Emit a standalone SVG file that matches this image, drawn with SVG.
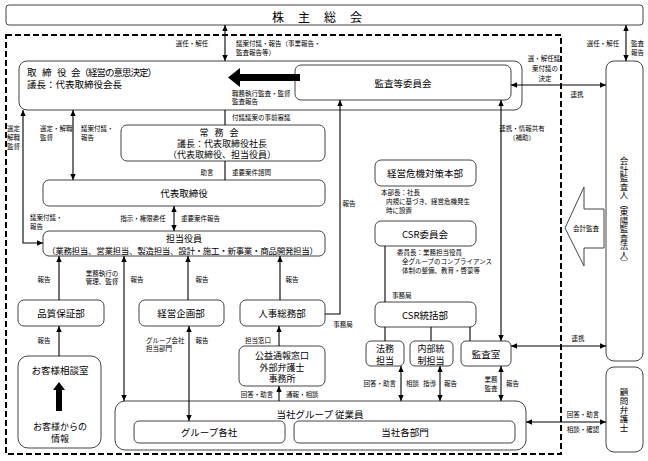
<svg xmlns="http://www.w3.org/2000/svg" width="648" height="461" viewBox="0 0 648 461">
<style>
text{font-family:"Noto Sans CJK JP","Noto Sans",sans-serif;fill:#000;dominant-baseline:central}
.b{font-size:9.5px;text-anchor:middle}
.m{font-size:9px;text-anchor:middle}
.bl{font-size:9.5px}
.v{font-size:8.5px;text-anchor:middle;writing-mode:vertical-rl}
.s{font-size:6.5px}
.sc{font-size:6.5px;text-anchor:middle}
.se{font-size:6.5px;text-anchor:end}
.box{fill:#fff;stroke:#444;stroke-width:1}
.ln{fill:none;stroke:#000;stroke-width:1.1}
.ar{fill:none;stroke:#000;stroke-width:1.1;marker-end:url(#ah)}
.ar2{fill:none;stroke:#000;stroke-width:1.1;marker-end:url(#ah);marker-start:url(#ah)}
</style>
<defs>
<marker id="ah" viewBox="0 0 10 10" refX="10" refY="5" markerWidth="6" markerHeight="6" markerUnits="userSpaceOnUse" orient="auto-start-reverse"><path d="M0,0.5 L10,5 L0,9.5 z" fill="#000"/></marker>
</defs>
<rect x="0" y="0" width="648" height="461" fill="#fff"/>
<rect x="6" y="35" width="555" height="419" fill="none" stroke="#000" stroke-width="2" stroke-dasharray="6 3"/>

<g id="kabunushi"><rect class="box" x="6" y="5" width="637" height="20" rx="3"/>
<text x="324" y="16" style="font-size:12px;text-anchor:middle;letter-spacing:14px">株主総会</text></g>

<g id="torishimariyakukai"><rect class="box" x="19" y="61" width="503" height="49" rx="8"/>
<text class="bl" x="27" y="72">取</text><text class="bl" x="42" y="72">締</text><text class="bl" x="57" y="72">役</text><text class="bl" x="71" y="72" textLength="86">会（経営の意思決定）</text>
<text class="bl" x="27" y="84">議長：代表取締役会長</text></g>

<g id="kansatou"><rect class="box" x="295" y="65" width="216" height="35" rx="6"/>
<text class="b" x="403" y="83">監査等委員会</text></g>

<g id="joumukai"><rect class="box" x="121" y="125" width="204" height="36" rx="6"/>
<text class="m" x="222" y="132" style="letter-spacing:6px">常務会</text>
<text class="m" x="222" y="143">議長：代表取締役社長</text>
<text class="m" x="222" y="154">（代表取締役、担当役員）</text></g>

<g id="daihyou"><rect class="box" x="43" y="180" width="282" height="26" rx="6"/>
<text class="b" x="184" y="193">代表取締役</text></g>

<g id="tantou"><rect class="box" x="43" y="231" width="282" height="25" rx="6"/>
<text class="m" x="184" y="238">担当役員</text>
<text x="47" y="250" style="font-size:8.5px" textLength="271">（業務担当、営業担当、製造担当、設計・施工・新事業・商品開発担当）</text></g>

<g id="hinshitsu"><rect class="box" x="18" y="300" width="86" height="26" rx="6"/>
<text class="b" x="61" y="313">品質保証部</text></g>

<g id="keiei"><rect class="box" x="139" y="300" width="85" height="26" rx="6"/>
<text class="b" x="181" y="313">経営企画部</text></g>

<g id="jinji"><rect class="box" x="240" y="300" width="85" height="26" rx="6"/>
<text class="b" x="282" y="313">人事総務部</text></g>

<g id="koueki"><rect class="box" x="239" y="346" width="86" height="40" rx="6"/>
<text class="m" x="282" y="355">公益通報窓口</text>
<text class="m" x="282" y="367">外部弁護士</text>
<text class="m" x="282" y="378">事務所</text></g>

<g id="okyakusama"><rect class="box" x="18" y="356" width="83" height="92" rx="10"/>
<text class="b" x="60" y="370">お客様相談室</text>
<path d="M59,382 L65,390 L62,390 L62,411 L56,411 L56,390 L53,390 z" fill="#000"/>
<text class="m" x="60" y="426">お客様からの</text>
<text class="m" x="60" y="438">情報</text></g>

<g id="kiki"><rect class="box" x="375" y="160" width="101" height="26" rx="6"/>
<text class="b" x="425" y="173">経営危機対策本部</text>
<text class="s" x="381" y="192">本部長：社長</text>
<text class="s" x="386" y="201">内規に基づき、経営危機発生</text>
<text class="s" x="386" y="210">時に設置</text></g>

<g id="csriinkai"><rect class="box" x="375" y="221" width="101" height="25" rx="6"/>
<text class="b" x="425" y="234">CSR委員会</text>
<text class="s" x="397" y="252">委員長：業務担当役員</text>
<text class="s" x="402" y="261">全グループのコンプライアンス</text>
<text class="s" x="402" y="270">体制の整備、教育・啓蒙等</text></g>

<g id="csrtoukatsu"><rect class="box" x="375" y="302" width="101" height="25" rx="6"/>
<text class="b" x="425" y="315">CSR統括部</text></g>

<g id="houmu"><rect class="box" x="366" y="341" width="38" height="25" rx="5"/>
<text class="m" x="385" y="348">法務</text><text class="m" x="385" y="360">担当</text></g>

<g id="naibu"><rect class="box" x="410" y="341" width="43" height="25" rx="5"/>
<text class="m" x="431" y="348">内部統</text><text class="m" x="431" y="360">制担当</text></g>

<g id="kansashitsu"><rect class="box" x="461" y="341" width="50" height="25" rx="5"/>
<text class="b" x="486" y="354">監査室</text></g>

<g id="juugyouin"><rect class="box" x="115" y="401" width="411" height="49" rx="10"/>
<text class="b" x="320" y="414">当社グループ 従業員</text>
<rect class="box" x="134" y="421" width="151" height="22" rx="5"/>
<text class="b" x="209" y="432">グループ各社</text>
<rect class="box" x="294" y="421" width="221" height="22" rx="5"/>
<text class="b" x="405" y="432">当社各部門</text></g>

<g id="kaikei"><rect class="box" x="606" y="61" width="37" height="300" rx="8"/>
<text class="v" x="624" y="212">会計監査人（東陽監査法人）</text></g>

<g id="komon"><rect class="box" x="606" y="367" width="37" height="85" rx="8"/>
<text class="v" x="624" y="410" style="letter-spacing:0.5px">顧問弁護士</text></g>

<g id="connectors">
<path class="ar2" d="M225,25 V61"/>
<path class="ar2" d="M626,25 V61"/>
<path class="ar2" d="M511,85 H606"/>
<path class="ln" d="M225,110 V125"/>
<path class="ln" d="M225,161 V180"/>
<path class="ar2" d="M174,206 V231"/>
<path class="ar2" d="M43,243 H23 V110"/>
<path class="ar2" d="M73,110 V180"/>
<path class="ar" d="M325,314 H340 V100"/>
<path class="ar2" d="M501,100 V341"/>
<path class="ln" d="M385,246 V302"/>
<path class="ln" d="M385,327 V341 M431,327 V341 M470,327 V341"/>
<path class="ar2" d="M401,366 V401"/>
<path class="ar2" d="M440,366 V401"/>
<path class="ar2" d="M501,366 V401"/>
<path class="ar2" d="M511,346 H606"/>
<path class="ar2" d="M526,422 H606"/>
<path class="ar" d="M59,300 V256"/>
<path class="ar" d="M59,356 V326"/>
<path class="ar2" d="M124,256 V401"/>
<path class="ar" d="M188,300 V256"/>
<path class="ar2" d="M189,326 V421"/>
<path class="ar" d="M280,300 V256"/>
<path class="ar" d="M279,346 V326"/>
<path class="ar" d="M279,401 V386"/>
<path d="M228,77.5 L240,68 L240,74 L300,74 L300,81 L240,81 L240,87 z" fill="#000"/>
<path d="M565,228 L584,187 L584,209 L604,209 L604,248 L584,248 L584,266 z" fill="#fff" stroke="#444" stroke-width="1"/>
<text class="sc" x="586" y="228">会計監査</text>
</g>

<g id="labels">
<text class="sc" x="192" y="43">選任・解任</text>
<text class="s" x="236" y="43">議案付議・報告（事業報告・</text>
<text class="s" x="236" y="52">監査報告等）</text>
<text class="sc" x="603" y="43">選任・解任</text>
<text class="s" x="631" y="43">監査</text>
<text class="s" x="631" y="52">報告</text>
<text class="sc" x="544" y="58">選・解任議</text>
<text class="sc" x="545" y="68">案付議の</text>
<text class="sc" x="545" y="78">決定</text>
<text class="sc" x="577" y="94">連携</text>
<text class="s" x="232" y="93">職務執行監査・監督</text>
<text class="s" x="232" y="101">監査報告</text>
<text class="s" x="232" y="117">付議議案の事前審議</text>
<text class="s" x="7" y="128">選定</text>
<text class="s" x="7" y="137">解職</text>
<text class="s" x="7" y="146">監督</text>
<text class="s" x="40" y="128">選定・解職</text>
<text class="s" x="40" y="137">監督</text>
<text class="s" x="81" y="128">議案付議・</text>
<text class="s" x="81" y="137">報告</text>
<text class="sc" x="207" y="172">助言</text>
<text class="s" x="232" y="172">重要案件諮問</text>
<text class="sc" x="143" y="218">指示・権限委任</text>
<text class="s" x="181" y="218">重要案件報告</text>
<text class="s" x="30" y="217">議案付議・</text>
<text class="s" x="30" y="226">報告</text>
<text class="sc" x="44" y="279">報告</text>
<text class="sc" x="102" y="273">業務執行の</text>
<text class="sc" x="102" y="281">管理、監督</text>
<text class="sc" x="137" y="279">報告</text>
<text class="sc" x="202" y="279">報告</text>
<text class="sc" x="292" y="279">報告</text>
<text class="sc" x="44" y="340">報告</text>
<text class="s" x="146" y="340">グループ会社</text>
<text class="s" x="146" y="348">担当部門</text>
<text class="sc" x="202" y="340">報告</text>
<text class="s" x="245" y="340">担当窓口</text>
<text class="sc" x="343" y="324">事務局</text>
<text class="sc" x="349" y="203">報告</text>
<text class="sc" x="522" y="128">連携・情報共有</text>
<text class="sc" x="522" y="137">（補助）</text>
<text class="s" x="392" y="295">事務局</text>
<text class="se" x="396" y="383">回答・助言</text>
<text class="s" x="406" y="383">相談</text>
<text class="se" x="436" y="383">指導</text>
<text class="s" x="444" y="383">報告</text>
<text class="sc" x="491" y="379">業務</text>
<text class="sc" x="491" y="388">監査</text>
<text class="s" x="506" y="383">報告</text>
<text class="sc" x="578" y="338">連携</text>
<text class="sc" x="583" y="414">回答・助言</text>
<text class="sc" x="583" y="429">相談・確認</text>
<text class="sc" x="257" y="394">回答・助言</text>
<text class="s" x="286" y="394">通報・相談</text>
</g>
</svg>
